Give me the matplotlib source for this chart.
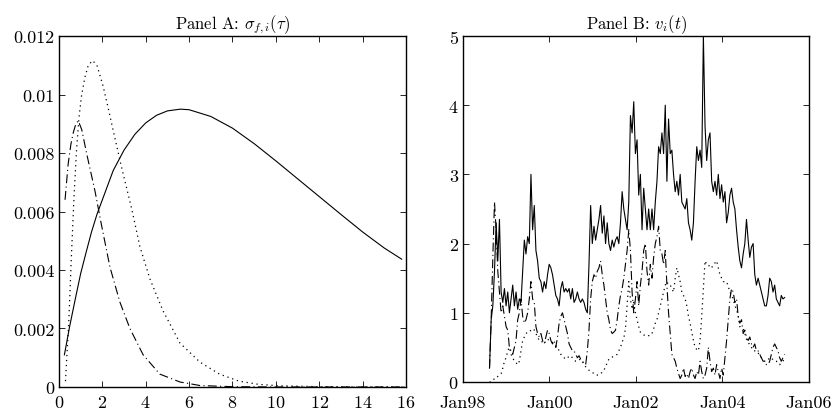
import matplotlib.pyplot as plt
import matplotlib.dates as mdates
import pandas as pd

# Panel A : sigma_{f,i}(tau)
tau_1 = [0.25, 0.5, 0.75, 1, 1.25, 1.5, 1.75, 2, 2.5, 3, 3.5, 4, 4.5, 5, 5.6,
         6, 7, 8, 9, 10, 11, 12, 13, 14, 15, 15.8]
sig_1 = [0.0011, 0.0021, 0.0030, 0.00388, 0.0046, 0.0053, 0.0059, 0.0064,
         0.0074, 0.0081, 0.00864, 0.00903, 0.00929, 0.00944, 0.0095, 0.00948,
         0.00925, 0.00885, 0.00832, 0.00773, 0.00712, 0.00651, 0.0059, 0.0053,
         0.00475, 0.00437]

tau_2 = [0.3, 0.45, 0.58, 0.7, 0.81, 0.92, 1.04, 1.2, 1.35, 1.55, 1.75, 2.03,
         2.25, 2.49, 2.89, 3.35, 3.73, 4.19, 4.8, 5.58, 6.5, 7.4, 8.3, 9.2,
         10.2, 12, 14, 16]
sig_2 = [0.0002, 0.0022, 0.0046, 0.0066, 0.0081, 0.0092, 0.00996, 0.0106,
         0.0110, 0.01116, 0.0110, 0.0103, 0.0096, 0.0088, 0.0075, 0.0061,
         0.0048, 0.0037, 0.0026, 0.0015, 0.00085, 0.00044, 0.0002, 0.00009,
         0.00004, 0.00001, 0.0, 0.0]

tau_3 = [0.28, 0.42, 0.55, 0.66, 0.78, 0.89, 1.05, 1.27, 1.66, 1.97, 2.35,
         2.81, 3.27, 3.88, 4.65, 5.58, 6.5, 8, 10, 12, 14, 16]
sig_3 = [0.0064, 0.0076, 0.0083, 0.0087, 0.0090, 0.0091, 0.0088, 0.0080,
         0.0067, 0.0055, 0.0041, 0.0029, 0.0020, 0.0011, 0.00044, 0.00017,
         0.00005, 0.00001, 0.0, 0.0, 0.0, 0.0]

# Panel B : v_i(t), une valeur toutes les deux semaines
debut = "1998-08-13"
v_1 = [0.2, 0.9, 1.1, 1.6, 2.3, 1.75, 2.35, 1.3, 1.15, 1.35, 1.1, 1.3, 1.0, 1.2,
       1.4, 1.1, 1.3, 1.05, 1.2, 1.15, 1.6, 2.05, 1.85, 2.1, 2.0, 3.0, 2.2,
       2.55, 1.9, 1.75, 1.5, 1.45, 1.3, 1.45, 1.35, 1.55, 1.7, 1.65, 1.55,
       1.4, 1.25, 1.2, 1.1, 1.35, 1.45, 1.3, 1.35, 1.3, 1.35, 1.2, 1.35, 1.15,
       1.2, 1.3, 1.2, 1.15, 1.2, 1.15, 1.05, 1.0, 1.7, 2.55, 2.0, 2.25, 2.05,
       2.2, 2.35, 2.55, 2.15, 2.4, 2.0, 2.3, 2.0, 1.9, 2.05, 1.95, 2.05, 2.1,
       2.0, 2.3, 2.75, 2.5, 2.35, 2.2, 2.6, 3.85, 3.6, 4.05, 3.3, 3.5, 2.7,
       3.0, 2.2, 2.8, 2.5, 2.2, 2.5, 2.2, 2.5, 2.2, 2.6, 2.9, 3.4, 3.3, 3.6,
       3.3, 4.0, 2.9, 3.8, 3.3, 3.35, 3.0, 2.75, 2.9, 2.7, 3.0, 2.6, 2.55, 2.5,
       2.65, 2.3, 2.2, 2.05, 2.3, 2.9, 3.4, 3.2, 3.35, 3.1, 5.0, 3.7, 3.2, 3.5,
       3.6, 2.9, 2.75, 2.9, 2.7, 3.0, 2.65, 2.85, 2.6, 2.75, 2.3, 2.45, 2.7,
       2.8, 2.6, 2.5, 2.2, 1.95, 1.75, 1.65, 1.85, 2.0, 2.35, 2.05, 1.8, 1.95,
       2.0, 1.55, 1.4, 1.5, 1.4, 1.3, 1.2, 1.1, 1.1, 1.25, 1.5, 1.45, 1.3, 1.4,
       1.2, 1.15, 1.1, 1.25, 1.2, 1.22]
v_2 = [0.2, 0.9, 1.8, 2.6, 2.2, 1.6, 1.3, 1.0, 1.1, 0.95, 0.8, 0.75, 0.5, 0.45,
       0.4, 0.5, 0.6, 0.9, 1.0, 1.2, 0.95, 0.85, 0.9, 1.0, 1.2, 1.45, 1.2,
       1.15, 0.8, 0.7, 0.65, 0.7, 0.6, 0.55, 0.65, 0.75, 0.7, 0.6, 0.55, 0.6,
       0.5, 0.65, 0.85, 0.95, 1.0, 0.9, 0.8, 0.7, 0.55, 0.5, 0.45, 0.45, 0.4,
       0.35, 0.38, 0.33, 0.3, 0.27, 0.25, 0.45, 0.75, 1.2, 1.45, 1.55, 1.5,
       1.6, 1.65, 1.75, 1.55, 1.4, 1.2, 1.0, 0.9, 0.75, 0.7, 0.72, 0.75, 0.9,
       1.1, 1.25, 1.35, 1.5, 1.7, 1.9, 2.2, 1.9, 1.3, 1.0, 1.2, 1.45, 1.1, 1.4,
       1.6, 1.9, 2.0, 1.6, 1.4, 1.7, 1.5, 1.8, 2.0, 2.1, 2.25, 1.9, 1.85, 1.7,
       1.9, 1.4, 1.0, 0.7, 0.4, 0.35, 0.3, 0.2, 0.12, 0.05, 0.1, 0.2, 0.08,
       0.12, 0.05, 0.15, 0.2, 0.1, 0.05, 0.15, 0.1, 0.3, 0.15, 0.05, 0.1, 0.2,
       0.5, 0.3, 0.15, 0.2, 0.1, 0.25, 0.15, 0.05, 0.2, 0.1, 0.35, 0.6, 0.9,
       1.2, 1.35, 1.3, 1.15, 1.2, 0.95, 0.85, 0.9, 0.7, 0.75, 0.65, 0.6, 0.65,
       0.55, 0.5, 0.55, 0.45, 0.45, 0.4, 0.35, 0.3, 0.3, 0.25, 0.25, 0.3, 0.4,
       0.5, 0.55, 0.5, 0.45, 0.35, 0.3, 0.35, 0.4]
v_3 = [0.0, 0.0, 0.02, 0.05, 0.05, 0.08, 0.1, 0.12, 0.2, 0.3, 0.35, 0.45, 0.5,
       0.4, 0.35, 0.3, 0.28, 0.25, 0.3, 0.45, 0.6, 0.65, 0.7, 0.72, 0.72, 0.75,
       0.77, 0.75, 0.7, 0.65, 0.6, 0.6, 0.57, 0.55, 0.6, 0.62, 0.6, 0.58, 0.57,
       0.55, 0.52, 0.5, 0.45, 0.4, 0.38, 0.35, 0.33, 0.35, 0.37, 0.38, 0.35,
       0.32, 0.3, 0.3, 0.32, 0.33, 0.3, 0.25, 0.22, 0.2, 0.17, 0.15, 0.14,
       0.12, 0.12, 0.1, 0.1, 0.12, 0.14, 0.17, 0.22, 0.28, 0.33, 0.35, 0.36,
       0.37, 0.38, 0.4, 0.45, 0.5, 0.58, 0.63, 0.77, 1.1, 1.45, 1.2, 1.05,
       1.15, 1.0, 0.9, 0.8, 0.72, 0.7, 0.68, 0.67, 0.66, 0.67, 0.67, 0.7, 0.77,
       0.85, 0.9, 1.0, 1.1, 1.2, 1.3, 1.4, 1.45, 1.4, 1.4, 1.35, 1.3, 1.5,
       1.65, 1.55, 1.45, 1.3, 1.25, 1.2, 1.1, 0.95, 0.85, 0.72, 0.6, 0.5, 0.47,
       0.45, 0.6, 0.95, 1.35, 1.75, 1.7, 1.7, 1.65, 1.65, 1.7, 1.72, 1.75,
       1.65, 1.55, 1.5, 1.45, 1.45, 1.45, 1.38, 1.3, 1.25, 1.2, 1.1, 1.05,
       0.95, 0.8, 0.78, 0.77, 0.7, 0.62, 0.58, 0.53, 0.5, 0.45, 0.45, 0.45,
       0.42, 0.38, 0.35, 0.33, 0.3, 0.3, 0.32, 0.35, 0.35, 0.32, 0.3, 0.3,
       0.28, 0.25, 0.28, 0.3, 0.35]

plt.rcParams['font.family'] = 'cmr10'
plt.rcParams['mathtext.fontset'] = 'cm'
plt.rcParams['axes.formatter.use_mathtext'] = True
plt.rcParams['font.size'] = 13

fig = plt.figure(figsize=(8.33, 4.10), dpi=100)
axA = fig.add_axes([0.0708, 0.0537, 0.4166, 0.856])
axB = fig.add_axes([0.5558, 0.0659, 0.4154, 0.8439])

# Panel A
axA.plot(tau_1, sig_1, color='black', linestyle='-', linewidth=0.8)
axA.plot(tau_2, sig_2, color='black', linestyle=(0, (1, 3)), linewidth=0.9)
axA.plot(tau_3, sig_3, color='black', linestyle=(0, (8, 3, 1, 3)), linewidth=0.8)
axA.set_xlim(0, 16)
axA.set_ylim(0, 0.012)
axA.set_xticks(range(0, 17, 2))
axA.set_yticks([0, 0.002, 0.004, 0.006, 0.008, 0.01, 0.012])
axA.set_yticklabels(['0', '0.002', '0.004', '0.006', '0.008', '0.01', '0.012'])
axA.set_title(r'Panel A: $\sigma_{f,i}(\tau)$', fontsize=12, pad=6)

# Panel B
dates_1 = pd.date_range(debut, periods=len(v_1), freq='14D')
dates_2 = pd.date_range(debut, periods=len(v_2), freq='14D')
dates_3 = pd.date_range(debut, periods=len(v_3), freq='14D')
axB.plot(dates_1, v_1, color='black', linestyle='-', linewidth=0.8)
axB.plot(dates_2, v_2, color='black', linestyle=(0, (8, 3, 1, 3)), linewidth=0.8)
axB.plot(dates_3, v_3, color='black', linestyle=(0, (1, 3)), linewidth=0.9)
axB.set_xlim(pd.Timestamp('1998-01-01'), pd.Timestamp('2006-01-01'))
axB.set_ylim(0, 5)
axB.set_yticks([0, 1, 2, 3, 4, 5])
axB.set_xticks([pd.Timestamp(f'{a}-01-01') for a in (1998, 2000, 2002, 2004, 2006)])
axB.xaxis.set_major_formatter(mdates.DateFormatter('%b%y'))
axB.set_title(r'Panel B: $v_i(t)$', fontsize=12, pad=6)

for ax in (axA, axB):
    ax.tick_params(direction='in', top=True, right=True, length=4, width=0.6,
                   labelsize=13, pad=3)
    for s in ax.spines.values():
        s.set_linewidth(1.0)
axA.tick_params(axis='x', pad=5)
axB.tick_params(axis='x', pad=9)

fig.savefig('out.png', dpi=100)
